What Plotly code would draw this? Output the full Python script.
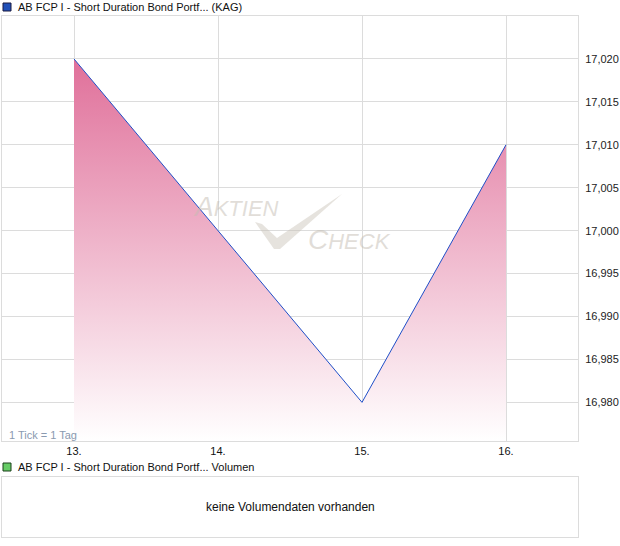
import plotly.graph_objects as go

# Data
days = [13, 14, 15, 16]
day_labels = ["13.", "14.", "15.", "16."]
prices = [17.020, 17.000, 16.980, 17.010]
y_ticks = [16.980, 16.985, 16.990, 16.995, 17.000, 17.005, 17.010, 17.015, 17.020]

W, H = 620, 546

def px(x):
    return x / W

def py(y):
    return 1 - y / H

fig = go.Figure()

fig.add_trace(go.Scatter(
    x=days, y=prices, mode="lines",
    line=dict(color="#1f4fc8", width=1),
    fill="tozeroy",
    fillgradient=dict(type="vertical", start=16.9755, stop=17.020,
                      colorscale=[[0, "rgba(255,255,255,1)"], [1, "#e0709a"]]),
    hoverinfo="skip", showlegend=False,
    xaxis="x", yaxis="y",
))

# empty trace for volume panel
fig.add_trace(go.Scatter(x=[], y=[], xaxis="x2", yaxis="y2", showlegend=False))

grid = "#dcdcdc"
fig.update_layout(
    width=W, height=H,
    margin=dict(l=0, r=0, t=0, b=0),
    paper_bgcolor="white", plot_bgcolor="white",
    separators=",.",
    font=dict(family="Liberation Sans, Arial, sans-serif", size=11, color="#222"),
    xaxis=dict(domain=[px(2), px(578)], range=[12.5, 16.5],
               tickvals=days, ticktext=day_labels, showgrid=True, gridcolor=grid,
               zeroline=False, showline=True, linecolor=grid, mirror=True,
               ticks="", ticklabelstandoff=0, tickfont=dict(size=11, color="#111"), anchor="y"),
    yaxis=dict(domain=[py(441), py(16)], range=[16.9755, 17.025], side="right",
               tickvals=y_ticks, tickformat=".3f", showgrid=True, gridcolor=grid,
               zeroline=False, showline=True, linecolor=grid, mirror=True,
               ticks="", ticklabelstandoff=4, tickfont=dict(size=11, color="#222"),
               anchor="x"),
    xaxis2=dict(domain=[px(2), px(578)], range=[0, 1], showgrid=False, zeroline=False,
                showticklabels=False, showline=True, linecolor=grid, mirror=True,
                anchor="y2"),
    yaxis2=dict(domain=[py(537), py(477)], range=[0, 1], showgrid=False, zeroline=False,
                showticklabels=False, showline=True, linecolor=grid, mirror=True,
                anchor="x2"),
)

shapes = [
    dict(type="rect", xref="paper", yref="paper", x0=px(3), x1=px(11), y0=py(11), y1=py(3),
         fillcolor="#2050b8", line=dict(color="#1a1a40", width=1)),
    dict(type="rect", xref="paper", yref="paper", x0=px(3), x1=px(11), y0=py(471), y1=py(463),
         fillcolor="#66cc66", line=dict(color="#1a401a", width=1)),
    # watermark check mark
    dict(type="path", xref="paper", yref="paper", layer="above",
         path=(f"M {px(255)},{py(222)} L {px(262)},{py(224)} L {px(277)},{py(238)} "
               f"L {px(342)},{py(194)} L {px(280)},{py(249)} L {px(274)},{py(249)} Z"),
         fillcolor="rgba(200,192,182,0.45)", line=dict(width=0)),
]
fig.update_layout(shapes=shapes)

wm = "rgba(195,188,178,0.5)"
annotations = [
    dict(xref="paper", yref="paper", x=px(16), y=py(7), xanchor="left", yanchor="middle",
         text="AB FCP I - Short Duration Bond Portf... (KAG)", showarrow=False,
         font=dict(size=11, color="#111")),
    dict(xref="paper", yref="paper", x=px(16), y=py(467), xanchor="left", yanchor="middle",
         text="AB FCP I - Short Duration Bond Portf... Volumen", showarrow=False,
         font=dict(size=11, color="#111")),
    dict(xref="paper", yref="paper", x=px(290), y=py(507), xanchor="center", yanchor="middle",
         text="keine Volumendaten vorhanden", showarrow=False,
         font=dict(size=12, color="#111")),
    dict(xref="paper", yref="paper", x=px(7), y=py(435), xanchor="left", yanchor="middle",
         text="1 Tick = 1 Tag", showarrow=False, font=dict(size=11, color="#8a9ab0")),
    dict(xref="paper", yref="paper", x=px(191), y=py(206), xanchor="left", yanchor="middle",
         text="<i><span style='font-size:28px'>A</span>KTIEN</i>", showarrow=False,
         font=dict(size=22, color=wm, family="Liberation Sans, Arial")),
    dict(xref="paper", yref="paper", x=px(306), y=py(239), xanchor="left", yanchor="middle",
         text="<i><span style='font-size:28px'>C</span>HECK</i>", showarrow=False,
         font=dict(size=22, color=wm, family="Liberation Sans, Arial")),
]
fig.update_layout(annotations=annotations)

fig.write_html("out.html", config={"displayModeBar": False},
               post_script="document.body.style.margin='0';document.body.style.padding='0';")
